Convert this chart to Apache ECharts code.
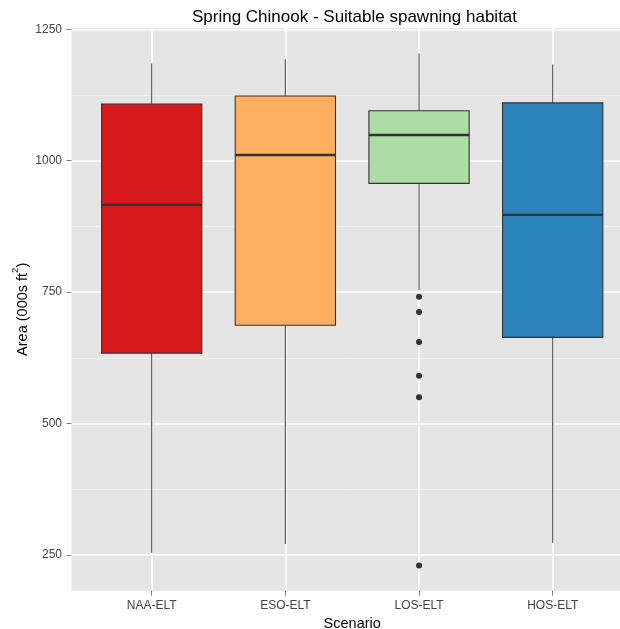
<!DOCTYPE html>
<html>
<head>
<meta charset="utf-8">
<script src="https://cdn.jsdelivr.net/npm/echarts@6/dist/echarts.min.js"></script>
<style>
  html, body { margin: 0; padding: 0; background: #ffffff; }
  #chart { width: 620px; height: 629px; }
</style>
</head>
<body>
<div id="chart"></div>
<script>
// Scenarios along the x axis
const categories = ['NAA-ELT', 'ESO-ELT', 'LOS-ELT', 'HOS-ELT'];
// Box statistics per scenario: [whisker low, Q1, median, Q3, whisker high] (000s ft²)
const whiskerLow = [254, 271, 754, 273];
const q1 = [634, 687, 957, 664];
const median = [916, 1011, 1049, 897];
const q3 = [1108, 1123, 1095, 1110];
const whiskerHigh = [1185, 1193, 1204, 1183];
// Outlying values, LOS-ELT scenario
const losOutliers = [741, 712, 655, 591, 550, 230];
// Fill colours per scenario
const fills = ['#D7191C', '#FDAE61', '#ABDDA4', '#2B83BA'];
// Axis tick values
const yMajorTicks = [250, 500, 750, 1000, 1250];
const yMinorTicks = [375, 625, 875, 1125];

const FONT = '"Liberation Sans", Arial, Helvetica, sans-serif';
const Y_MIN = 182, Y_MAX = 1252.5;

const boxData = categories.map((c, i) => [i, whiskerLow[i], q1[i], median[i], q3[i], whiskerHigh[i]]);
const outlierData = losOutliers.map(v => [categories.indexOf('LOS-ELT'), v]);

const chart = echarts.init(document.getElementById('chart'), null, { renderer: 'canvas' });

const option = {
  animation: false,
  backgroundColor: '#ffffff',
  graphic: [{
    type: 'text',
    x: 354.5,
    y: 17,
    style: {
      text: 'Spring Chinook - Suitable spawning habitat',
      font: '17px ' + FONT,
      fill: '#000000',
      textAlign: 'center',
      textVerticalAlign: 'middle'
    }
  }],
  grid: {
    left: 71.5,
    top: 28,
    width: 561.4,
    bottom: 38.3,
    show: true,
    backgroundColor: '#E5E5E5',
    borderWidth: 0,
    containLabel: false,
    outerBoundsMode: 'none'
  },
  xAxis: {
    type: 'value',
    min: -0.6,
    max: 3.6,
    name: 'Scenario',
    nameLocation: 'middle',
    nameGap: 23.5,
    nameTextStyle: { fontFamily: FONT, fontSize: 14.5, color: '#000000' },
    axisLine: { show: false },
    axisTick: {
      show: true,
      customValues: [0, 1, 2, 3],
      length: 5,
      lineStyle: { color: '#7F7F7F', width: 1 }
    },
    axisLabel: {
      customValues: [0, 1, 2, 3],
      formatter: v => categories[Math.round(v)],
      margin: 9,
      fontFamily: FONT,
      fontSize: 12,
      color: '#444444'
    },
    splitLine: { show: true, lineStyle: { color: '#FFFFFF', width: 1.6 } }
  },
  yAxis: [{
    // minor gridlines
    type: 'value',
    position: 'left',
    min: Y_MIN,
    max: Y_MAX,
    axisLine: { show: false },
    axisTick: { show: false, customValues: yMinorTicks },
    axisLabel: { show: false, customValues: yMinorTicks },
    splitLine: { show: true, lineStyle: { color: '#F2F2F2', width: 0.8 } }
  }, {
    type: 'value',
    position: 'left',
    min: Y_MIN,
    max: Y_MAX,
    name: '{t|Area (000s ft}{s|2}{t|)}',
    nameLocation: 'middle',
    nameRotate: 90,
    nameGap: 41,
    nameMoveOverlap: false,
    nameTextStyle: {
      rich: {
        t: { fontFamily: FONT, fontSize: 14.5, color: '#000000', lineHeight: 20, verticalAlign: 'bottom' },
        s: { fontFamily: FONT, fontSize: 9.5, color: '#000000', lineHeight: 20, verticalAlign: 'top' }
      }
    },
    axisLine: { show: false },
    axisTick: {
      show: true,
      customValues: yMajorTicks,
      length: 5,
      lineStyle: { color: '#7F7F7F', width: 1 }
    },
    axisLabel: {
      customValues: yMajorTicks,
      formatter: v => String(v),
      margin: 9.5,
      fontFamily: FONT,
      fontSize: 12,
      color: '#444444'
    },
    splitLine: { show: true, lineStyle: { color: '#FFFFFF', width: 1.6 } }
  }],
  series: [{
    type: 'custom',
    name: 'boxes',
    xAxisIndex: 0,
    yAxisIndex: 1,
    encode: { x: 0, y: [1, 2, 3, 4, 5] },
    data: boxData,
    z: 3,
    renderItem: function (params, api) {
      const x = api.value(0);
      const idx = Math.round(x);
      const pLow = api.coord([x, api.value(1)]);
      const pQ1 = api.coord([x, api.value(2)]);
      const pMed = api.coord([x, api.value(3)]);
      const pQ3 = api.coord([x, api.value(4)]);
      const pHigh = api.coord([x, api.value(5)]);
      const half = api.size([0.75, 0])[0] / 2;
      const edge = '#333333';
      return {
        type: 'group',
        children: [
          { type: 'line', shape: { x1: pLow[0], y1: pLow[1], x2: pQ1[0], y2: pQ1[1] },
            style: { stroke: '#4D4D4D', lineWidth: 1.1 } },
          { type: 'line', shape: { x1: pQ3[0], y1: pQ3[1], x2: pHigh[0], y2: pHigh[1] },
            style: { stroke: '#4D4D4D', lineWidth: 1.1 } },
          { type: 'rect', shape: { x: pQ3[0] - half, y: pQ3[1], width: half * 2, height: pQ1[1] - pQ3[1] },
            style: { fill: fills[idx], stroke: edge, lineWidth: 1.1 } },
          { type: 'line', shape: { x1: pMed[0] - half, y1: pMed[1], x2: pMed[0] + half, y2: pMed[1] },
            style: { stroke: edge, lineWidth: 2.4 } }
        ]
      };
    }
  }, {
    type: 'scatter',
    name: 'outliers',
    xAxisIndex: 0,
    yAxisIndex: 1,
    data: outlierData,
    symbol: 'circle',
    symbolSize: 6,
    z: 4,
    itemStyle: { color: '#000000' }
  }]
};

chart.setOption(option);
</script>
</body>
</html>
